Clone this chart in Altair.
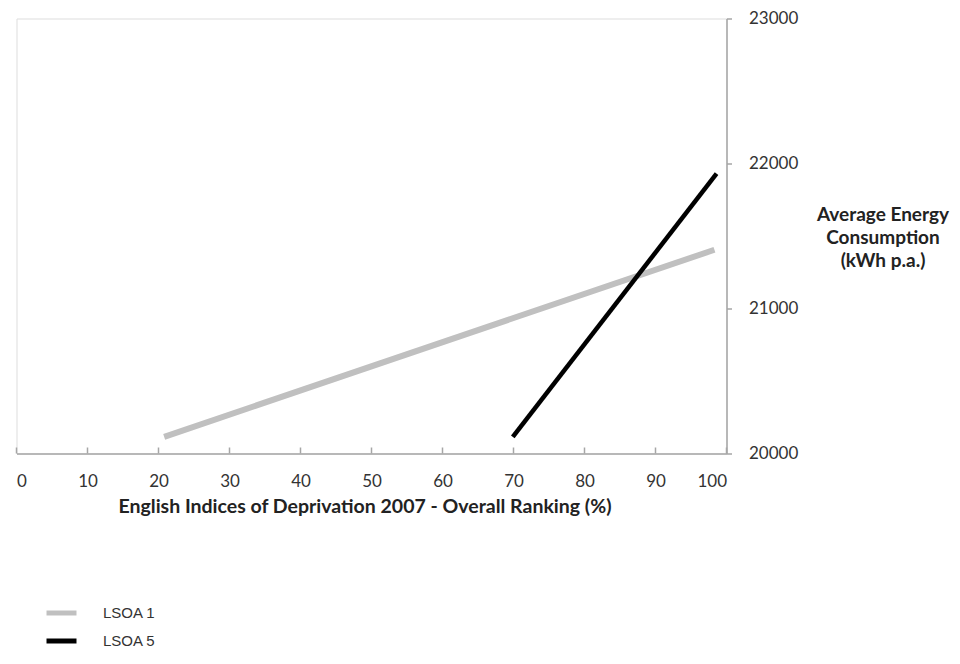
import altair as alt
import pandas as pd

series = ["LSOA 1", "LSOA 1", "LSOA 5", "LSOA 5"]
ranking = [20.8, 98.3, 69.9, 98.6]
energy = [20115, 21405, 20115, 21930]
widths = [6, 6, 4.5, 4.5]
x_ticks = [0, 10, 20, 30, 40, 50, 60, 70, 80, 90, 100]
y_ticks = [20000, 21000, 22000, 23000]

df = pd.DataFrame({"series": series, "x": ranking, "y": energy, "w": widths})
ticks_df = pd.DataFrame({"t": x_ticks})

W, H = 710, 435

x_scale = alt.Scale(domain=[0, 100], nice=False, zero=False)
y_scale = alt.Scale(domain=[20000, 23000], nice=False, zero=False)

lines = alt.Chart(df).mark_line(strokeCap="butt").encode(
    x=alt.X("x:Q", scale=x_scale,
            axis=alt.Axis(values=x_ticks, ticks=False, labelPadding=20, labelFontSize=17,
                          labelFont="Lato", labelColor="#333333", domainColor="#a6a6a6",
                          domainWidth=1.5, grid=False,
                          title="English  Indices  of Deprivation  2007 - Overall Ranking  (%)",
                          titleFont="Lato", titleFontSize=19.5, titleFontWeight="bold",
                          titleColor="#222222", titlePadding=8, titleX=348,
                          titleAlign="center")),
    y=alt.Y("y:Q", scale=y_scale,
            axis=alt.Axis(orient="right", values=y_ticks, format="d", tickSize=5,
                          tickColor="#a6a6a6", tickWidth=1.5, labelPadding=17,
                          labelFontSize=17, labelFont="Lato", labelColor="#333333",
                          domainColor="#a6a6a6", domainWidth=1.5, grid=False,
                          title=["Average Energy", "Consumption", "(kWh p.a.)"],
                          titleAngle=0, titleAlign="center", titleBaseline="top",
                          titleX=156, titleY=187, titleFont="Lato", titleFontSize=19,
                          titleFontWeight="bold", titleColor="#222222", titleLineHeight=23)),
    color=alt.Color("series:N",
                    scale=alt.Scale(domain=["LSOA 1", "LSOA 5"], range=["#c0c0c0", "#000000"]),
                    legend=alt.Legend(orient="none", legendX=27.5, legendY=577, title=None,
                                      symbolType="stroke", symbolSize=900,
                                      symbolStrokeWidth=5, labelFont="Liberation Sans",
                                      labelFontSize=15, labelColor="#333333",
                                      labelOffset=24, rowPadding=0, padding=0)),
    size=alt.Size("w:Q", scale=None, legend=None),
    detail="series:N",
)

tick_marks = alt.Chart(ticks_df).mark_rule(color="#a6a6a6", strokeWidth=1.5).encode(
    x=alt.X("t:Q", scale=x_scale),
    y=alt.value(H - 6),
    y2=alt.value(H),
)

chart = alt.layer(tick_marks, lines).properties(
    width=W, height=H,
    autosize=alt.AutoSizeParams(type="none"),
    padding={"left": 8.5, "top": 10.5, "right": 225, "bottom": 196},
).configure_view(stroke=None).configure(background="white")

chart.save("out.html", embed_options={"renderer": "svg", "actions": False})
